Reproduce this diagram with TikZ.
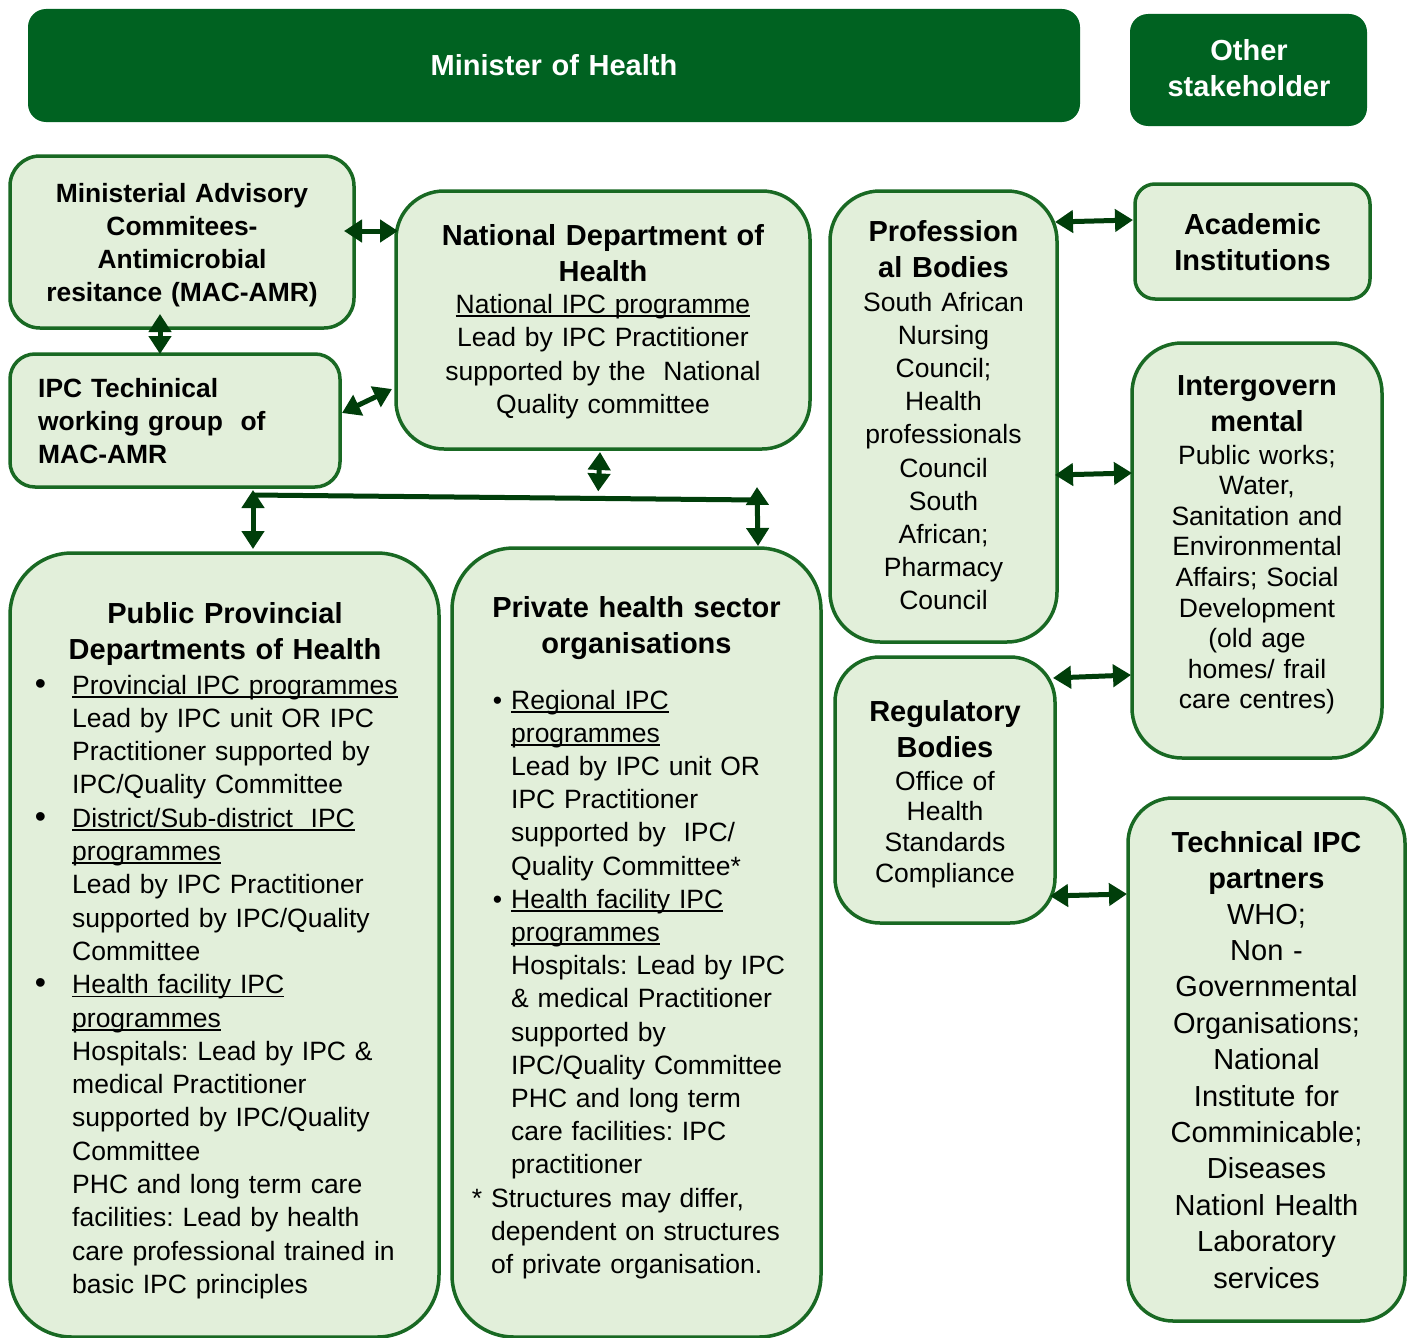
\documentclass[tikz,border=0pt]{standalone}
\usepackage{fontspec}
\setmainfont{Liberation Sans}
\usetikzlibrary{arrows.meta,calc}
\frenchspacing
\definecolor{darkg}{RGB}{0,98,33}
\definecolor{boxline}{RGB}{25,105,35}
\definecolor{boxfill}{RGB}{226,239,218}
\definecolor{arrowc}{RGB}{0,62,10}
\newcommand\titlef{\bfseries\fontsize{29}{36.8}\selectfont}
\newcommand\bodyf{\fontsize{26.5}{33.2}\selectfont}
\newcommand\myul[1]{\leavevmode\setbox0\hbox{#1}\rlap{\rule[-3.5pt]{\wd0}{1.7pt}}\box0}
\newcommand\pbul{\leavevmode\llap{{\fontsize{32}{0}\selectfont\textbullet}\hspace{26pt}}}
\newcommand\qbul{\leavevmode\llap{\textbullet\hspace{9pt}}}
\begin{document}
\begin{tikzpicture}[x=1pt,y=-1pt,
  box/.style={draw=boxline, fill=boxfill, line width=3.5pt, outer sep=0pt, inner sep=0pt},
  darkbox/.style={fill=darkg, draw=none, outer sep=0pt, inner sep=0pt, rounded corners=18pt},
  ctext/.style={inner sep=0pt, anchor=base, align=center, text width=#1},
  ctext/.default=400pt,
  ltext/.style={inner sep=0pt, anchor=base west, align=left, text width=#1},
  link/.style={draw=arrowc, line width=5pt, {Triangle[length=18pt,width=22pt]}-{Triangle[length=18pt,width=22pt]}},
  bus/.style={draw=arrowc, line width=5pt}]
\useasboundingbox (0,0) rectangle (1414,1338);
% top boxes
\node[darkbox, minimum width=1052pt, minimum height=113pt] (minister) at (554,65.5) {};
\node[darkbox, minimum width=237pt, minimum height=112pt] (other) at (1248.5,70) {};
\node[ctext, text=white, font=\titlef] (ministert) at (554,75) {Minister of Health};
\node[ctext, text=white, font=\titlef] (othert) at (1249,60) {Other\\stakeholder};
% boxes
\node[box, rounded corners=30pt, minimum width=344pt, minimum height=172pt] (mac) at (182,242) {};
\node[box, rounded corners=25pt, minimum width=330pt, minimum height=133pt] (ipc) at (175,420.5) {};
\node[box, rounded corners=48pt, minimum width=414pt, minimum height=258pt] (ndoh) at (603,320) {};
\node[box, rounded corners=50pt, minimum width=227pt, minimum height=451pt] (prof) at (943.5,416.5) {};
\node[box, rounded corners=20pt, minimum width=235pt, minimum height=115pt] (acad) at (1252.5,241.5) {};
\node[box, rounded corners=50pt, minimum width=250pt, minimum height=415pt] (inter) at (1257,550.5) {};
\node[box, rounded corners=45pt, minimum width=220pt, minimum height=266pt] (reg) at (945,790) {};
\node[box, rounded corners=45pt, minimum width=277pt, minimum height=523pt] (tech) at (1266.5,1059.5) {};
\node[box, rounded corners=62pt, minimum width=429pt, minimum height=784pt] (pub) at (224.5,945) {};
\node[box, rounded corners=62pt, minimum width=369pt, minimum height=789pt] (priv) at (636.5,942.5) {};
% texts
\node[ctext, font={\bfseries\fontsize{26.4}{33}\selectfont}] (mact) at (182,202)
  {Ministerial Advisory\\Commitees-\\Antimicrobial\\resitance (MAC-AMR)};
\node[ltext=300pt, font={\bfseries\fontsize{26.4}{33}\selectfont}] (ipct) at (38,397)
  {IPC Techinical\\working group\ \ of\\MAC-AMR};
\node[ctext, font=\titlef] (ndoht) at (603,245) {National Department of\\Health};
\node[ctext, font={\fontsize{26.5}{33.5}\selectfont}] (ndohb) at (603,313)
  {\myul{National IPC programme}\\Lead by IPC Practitioner\\supported by the\ \ National\\Quality committee};
\node[ctext, font=\titlef] (proft) at (943.5,241) {Profession\\al Bodies};
\node[ctext, font=\bodyf] (profb) at (943.5,311)
  {South African\\Nursing\\Council;\\Health\\professionals\\Council\\South\\African;\\Pharmacy\\Council};
\node[ctext, font={\bfseries\fontsize{29}{36}\selectfont}] (acadt) at (1252.5,234) {Academic\\Institutions};
\node[ctext, font={\bfseries\fontsize{29}{36}\selectfont}] (intert) at (1257,395) {Intergovern\\mental};
\node[ctext, font={\fontsize{26.5}{30.6}\selectfont}] (interb) at (1257,464)
  {Public works;\\Water,\\Sanitation and\\Environmental\\Affairs; Social\\Development\\(old age\\homes/ frail\\care centres)};
\node[ctext, font=\titlef] (regt) at (945,721) {Regulatory\\Bodies};
\node[ctext, font={\fontsize{26.5}{30.7}\selectfont}] (regb) at (945,790)
  {Office of\\Health\\Standards\\Compliance};
\node[ctext, font=\titlef] (techt) at (1266.5,852) {Technical IPC\\partners};
\node[ctext, font={\fontsize{29}{36.4}\selectfont}] (techb) at (1266.5,924)
  {WHO;\\Non -\\Governmental\\Organisations;\\National\\Institute for\\Comminicable;\\Diseases\\Nationl Health\\Laboratory\\services};
\node[ctext, font={\bfseries\fontsize{29}{36}\selectfont}] (pubt) at (225,623) {Public Provincial\\Departments of Health};
\node[ltext=360pt, font={\fontsize{26.5}{33.3}\selectfont}] (pubb) at (72,694)
  {\pbul\myul{Provincial IPC programmes}\\
   Lead by IPC unit OR IPC\\
   Practitioner supported by\\
   IPC/Quality Committee\\
   \pbul\myul{District/Sub-district\ \ IPC}\\
   \myul{programmes}\\
   Lead by IPC Practitioner\\
   supported by IPC/Quality\\
   Committee\\
   \pbul\myul{Health facility IPC}\\
   \myul{programmes}\\
   Hospitals: Lead by IPC \&\\
   medical Practitioner\\
   supported by IPC/Quality\\
   Committee\\
   PHC and long term care\\
   facilities: Lead by health\\
   care professional trained in\\
   basic IPC principles};
\node[ctext, font={\bfseries\fontsize{29}{36}\selectfont}] (privt) at (636.5,617) {Private health sector\\organisations};
\node[ltext=310pt, font={\fontsize{26.5}{33.2}\selectfont}] (privb) at (511,709)
  {\qbul\myul{Regional IPC}\\
   \myul{programmes}\\
   Lead by IPC unit OR\\
   IPC Practitioner\\
   supported by\ \ IPC/\\
   Quality Committee*\\
   \qbul\myul{Health facility IPC}\\
   \myul{programmes}\\
   Hospitals: Lead by IPC\\
   \& medical Practitioner\\
   supported by\\
   IPC/Quality Committee\\
   PHC and long term\\
   care facilities: IPC\\
   practitioner\\
   \hspace*{-20pt}\llap{*\hspace{9pt}}Structures may differ,\\
   \hspace*{-20pt}dependent on structures\\
   \hspace*{-20pt}of private organisation.};
% bus coordinates
\coordinate (busL) at (253,495);
\coordinate (busR) at (757,500);
% connectors
\draw[link] ([xshift=-10pt,yshift=11pt]mac.east) -- ([xshift=2pt,yshift=89pt]ndoh.west);
\draw[link] ([xshift=-22pt,yshift=14pt]mac.south) -- ([xshift=-15pt]ipc.north);
\draw[link] ([xshift=2pt,yshift=7.5pt]ipc.east) -- ([xshift=-4pt,yshift=-69pt]ndoh.west);
\draw[bus] (busL) -- (busR);
\draw[link] ([xshift=-3pt,yshift=-3pt]ndoh.south) -- ([yshift=7pt]$(busL)!0.685!(busR)$);
\draw[link] ([yshift=5pt]busL) -- ([xshift=28.5pt,yshift=4pt]pub.north);
\draw[link] ([yshift=13pt]busR) -- ([xshift=121.5pt,yshift=2pt]priv.north);
\draw[link] ([xshift=-2pt,yshift=194.5pt]prof.east) -- ([xshift=-2pt,yshift=21.5pt]acad.west);
\draw[link] ([xshift=-2pt,yshift=-58.5pt]prof.east) -- ([yshift=77.5pt]inter.west);
\draw[link] ([xshift=-2pt,yshift=112pt]reg.east) -- ([xshift=-1pt,yshift=-124.5pt]inter.west);
\draw[link] ([xshift=-5pt,yshift=-106pt]reg.east) -- ([xshift=-1pt,yshift=165.5pt]tech.west);
\end{tikzpicture}
\end{document}
